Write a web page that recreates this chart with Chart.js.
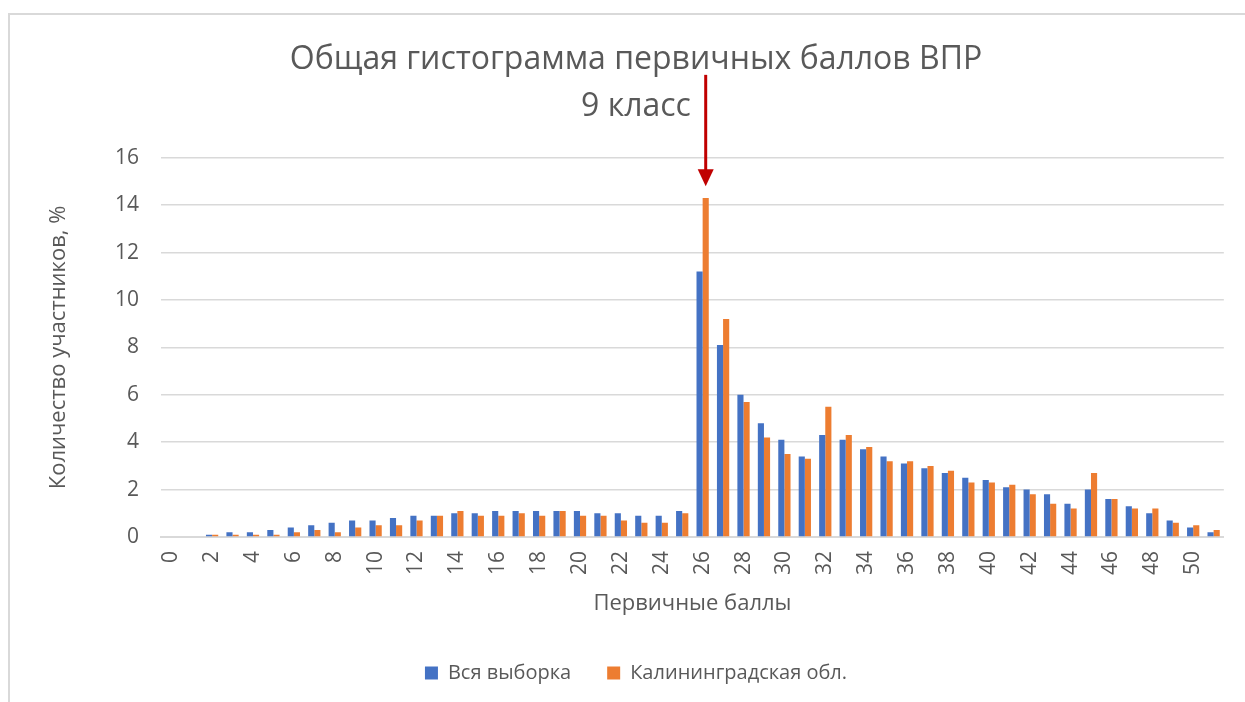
<!DOCTYPE html>
<html>
<head>
<meta charset="utf-8">
<script src="https://cdn.jsdelivr.net/npm/chart.js@4"></script>
<style>
  body { margin: 0; background: #fff; overflow: hidden; }
  #frame { position: absolute; left: 8px; top: 13px; width: 1300px; height: 800px; border: 2px solid #d9d9d9; }
  #wrap { position: absolute; left: 0; top: 0; width: 1245px; height: 702px; }
</style>
</head>
<body>
<div id="frame"></div>
<div id="wrap"><canvas id="myChart" width="1245" height="702"></canvas></div>
<script>
// Первичные баллы 0..51
let categories = [];
for (let i = 0; i <= 51; i++) categories.push(String(i));

// Вся выборка, %
let allSample = [0, 0, 0.1, 0.2, 0.2, 0.3, 0.4, 0.5, 0.6, 0.7, 0.7, 0.8, 0.9, 0.9, 1.0, 1.0,
    1.1, 1.1, 1.1, 1.1, 1.1, 1.0, 1.0, 0.9, 0.9, 1.1, 11.2, 8.1, 6.0, 4.8, 4.1, 3.4,
    4.3, 4.1, 3.7, 3.4, 3.1, 2.9, 2.7, 2.5, 2.4, 2.1, 2.0, 1.8, 1.4, 2.0, 1.6, 1.3,
    1.0, 0.7, 0.4, 0.2];

// Калининградская обл., %
let kaliningrad = [0, 0, 0.1, 0.1, 0.1, 0.1, 0.2, 0.3, 0.2, 0.4, 0.5, 0.5, 0.7, 0.9, 1.1, 0.9,
    0.9, 1.0, 0.9, 1.1, 0.9, 0.9, 0.7, 0.6, 0.6, 1.0, 14.3, 9.2, 5.7, 4.2, 3.5, 3.3,
    5.5, 4.3, 3.8, 3.2, 3.2, 3.0, 2.8, 2.3, 2.3, 2.2, 1.8, 1.4, 1.2, 2.7, 1.6, 1.2,
    1.2, 0.6, 0.5, 0.3];

let yTicks = [0, 2, 4, 6, 8, 10, 12, 14, 16];

// arrow over the peak of Kaliningrad (score 26)
let arrowScore = 26;
let arrowFrom = 19.5;
let arrowTo = 14.8;

const textColor = '#595959';
const gridColor = '#d9d9d9';
const fontFamily = "'Open Sans', sans-serif";

const arrowPlugin = {
    id: 'arrow',
    afterDatasetsDraw(chart) {
        const ctx = chart.ctx;
        const bar = chart.getDatasetMeta(1).data[arrowScore];
        const y = chart.scales.y;
        const x = bar.x;
        const top = y.getPixelForValue(arrowFrom);
        const tip = y.getPixelForValue(arrowTo);
        ctx.save();
        ctx.strokeStyle = '#c00000';
        ctx.fillStyle = '#c00000';
        ctx.lineWidth = 3;
        ctx.beginPath();
        ctx.moveTo(x, top);
        ctx.lineTo(x, tip - 12);
        ctx.stroke();
        ctx.beginPath();
        ctx.moveTo(x - 8, tip - 17);
        ctx.lineTo(x + 8, tip - 17);
        ctx.lineTo(x, tip);
        ctx.closePath();
        ctx.fill();
        ctx.restore();
    }
};

function createChart() {
    const ctx = document.getElementById('myChart').getContext('2d');
    new Chart(ctx, {
        type: 'bar',
        data: {
            labels: categories,
            datasets: [{
                label: 'Вся выборка',
                data: allSample,
                backgroundColor: '#4472c4',
                categoryPercentage: 0.6,
                barPercentage: 1.0
            }, {
                label: 'Калининградская обл.',
                data: kaliningrad,
                backgroundColor: '#ed7d31',
                categoryPercentage: 0.6,
                barPercentage: 1.0
            }]
        },
        options: {
            responsive: false,
            animation: false,
            layout: { padding: { left: 46, right: 19, top: 10, bottom: 9 } },
            plugins: {
                title: {
                    display: true,
                    text: ['Общая гистограмма первичных баллов ВПР', '9 класс'],
                    color: textColor,
                    font: { family: fontFamily, size: 32, weight: 'normal', lineHeight: 1.45 },
                    padding: { top: 27, bottom: 28 }
                },
                legend: {
                    position: 'bottom',
                    labels: {
                        color: textColor,
                        boxWidth: 13,
                        boxHeight: 13,
                        padding: 36,
                        font: { family: fontFamily, size: 20 }
                    }
                },
                tooltip: { enabled: false }
            },
            scales: {
                x: {
                    grid: { display: false },
                    border: { color: gridColor, width: 2 },
                    ticks: {
                        autoSkip: false,
                        maxRotation: 90,
                        minRotation: 90,
                        color: textColor,
                        padding: 6,
                        font: { family: fontFamily, size: 21 },
                        callback: function (value, index) {
                            return index % 2 === 0 ? categories[index] : '';
                        }
                    },
                    title: {
                        display: true,
                        text: 'Первичные баллы',
                        color: textColor,
                        font: { family: fontFamily, size: 22 },
                        padding: { top: 0, bottom: 10 }
                    },
                    afterFit: function (scale) { scale.height = 90; }
                },
                y: {
                    min: yTicks[0],
                    max: yTicks[yTicks.length - 1],
                    afterBuildTicks: function (scale) {
                        scale.ticks = yTicks.map(v => ({ value: v }));
                    },
                    grid: { color: gridColor, lineWidth: 1.5, drawTicks: false },
                    border: { display: false },
                    ticks: {
                        color: textColor,
                        padding: 22,
                        font: { family: fontFamily, size: 21 }
                    },
                    title: {
                        display: true,
                        text: 'Количество участников, %',
                        color: textColor,
                        font: { family: fontFamily, size: 22 },
                        padding: { top: 0, bottom: 0 }
                    },
                    afterFit: function (scale) { scale.width = 115; }
                }
            }
        },
        plugins: [arrowPlugin]
    });
}

createChart();
</script>
</body>
</html>
